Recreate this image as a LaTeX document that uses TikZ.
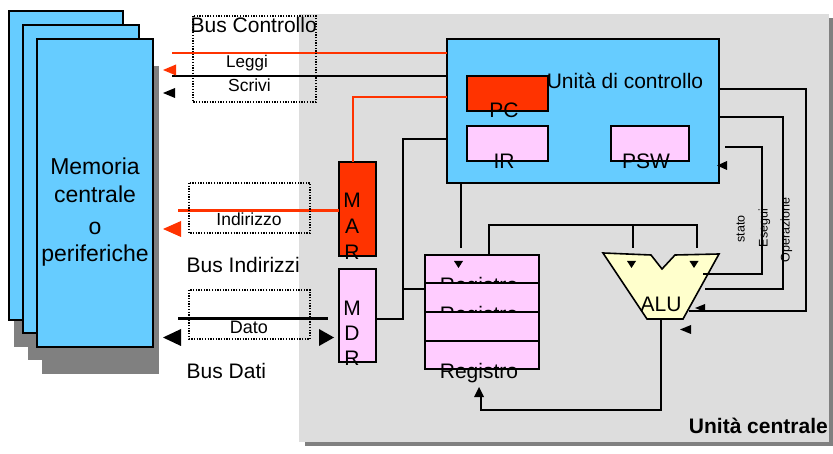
\documentclass[tikz,border=0pt]{standalone}
\usepackage{fontspec}
\setmainfont{Liberation Sans}
\definecolor{cublue}{HTML}{66CCFF}
\definecolor{busred}{HTML}{FF3300}
\definecolor{regpink}{HTML}{FFCCFF}
\definecolor{aluyellow}{HTML}{FFFFCC}
\definecolor{panelgray}{HTML}{DDDDDD}
\definecolor{shadowgray}{HTML}{808080}
\newcommand\myfs[1]{\fontsize{#1}{#1}\selectfont}
\begin{document}
\begin{tikzpicture}[x=1pt,y=-1pt,
  box/.style={draw=black, line width=1.6pt, inner sep=0pt, outer sep=0pt},
  wire/.style={draw=black, line width=1.4pt},
  rwire/.style={draw=busred, line width=1.3pt},
  dotbox/.style={draw=black, line width=1.3pt, dash pattern=on 1.3pt off 1.4pt},
  lab/.style={inner sep=0pt, anchor=base},
  labw/.style={inner sep=0pt, anchor=base west},
  rlab/.style={inner sep=0pt, anchor=center, rotate=90, text height=0.72em, text depth=0pt, font=\myfs{12.5}},
]
\useasboundingbox (0,0) rectangle (833,454);

% central panel
\fill[shadowgray] (305,18) rectangle (833,446);
\fill[panelgray] (299,14) rectangle (829,442);

% memory stack
\fill[shadowgray] (14,38) rectangle (128,347);
\draw[box, fill=cublue] (9,11) rectangle (123,320);
\fill[shadowgray] (28,52) rectangle (144,360);
\draw[box, fill=cublue] (23,25) rectangle (139,333);
\fill[shadowgray] (42,66) rectangle (159,374);
\draw[box, fill=cublue] (37,39) rectangle (153,347);
\node[lab, font=\myfs{23}] (mem1) at (95,175) {Memoria};
\node[lab, font=\myfs{23}] (mem2) at (95,203) {centrale};
\node[lab, font=\myfs{23}] (mem3) at (95,234.5) {o};
\node[lab, font=\myfs{23}] (mem4) at (95,262) {periferiche};

% control unit
\node[box, fill=cublue, minimum width=272pt, minimum height=144pt] (cu) at (583,111) {};
\node[box, fill=busred, minimum width=81pt, minimum height=35pt] (pc) at (507.5,93.5) {};
\node[box, fill=regpink, minimum width=81pt, minimum height=35pt] (ir) at (507.5,143.5) {};
\node[box, fill=regpink, minimum width=78pt, minimum height=35pt] (psw) at (650,143.5) {};
\node[lab, font=\myfs{21}] (cut) at (625,89) {Unità di controllo};
\node[lab, font=\myfs{21}] (pct) at (504,118) {PC};
\node[lab, font=\myfs{21}] (irt) at (504,169) {IR};
\node[lab, font=\myfs{21}] (pswt) at (646,169) {PSW};

% MAR / MDR
\node[box, fill=busred, minimum width=37pt, minimum height=94pt] (mar) at (357.5,209) {};
\node[box, fill=regpink, minimum width=37pt, minimum height=93pt] (mdr) at (357.5,315.5) {};
\node[lab, font=\myfs{21}] (marm) at (352,208) {M};
\node[lab, font=\myfs{21}] (mara) at (352,234) {A};
\node[lab, font=\myfs{21}] (marr) at (352,260) {R};
\node[lab, font=\myfs{21}] (mdrm) at (352,316) {M};
\node[lab, font=\myfs{21}] (mdrd) at (352,341) {D};
\node[lab, font=\myfs{21}] (mdrr) at (352,366) {R};

% registers
\node[box, fill=regpink, minimum width=114pt, minimum height=28pt] (reg1) at (482,269) {};
\node[lab, font=\myfs{21}] (reg1t) at (479,293) {Registro};
\node[box, fill=regpink, minimum width=114pt, minimum height=29pt] (reg2) at (482,297.5) {};
\node[lab, font=\myfs{21}] (reg2t) at (479,322) {Registro};
\node[box, fill=regpink, minimum width=114pt, minimum height=29pt] (reg3) at (482,326.5) {};
\node[box, fill=regpink, minimum width=114pt, minimum height=28pt] (reg4) at (482,355) {};
\node[lab, font=\myfs{21}] (reg4t) at (479,379) {Registro};

% ALU
\draw[box, fill=aluyellow, line join=miter] (603,253) -- (651,255) -- (662,269) -- (675,255) -- (719,254) -- (683,319) -- (647,319) -- cycle;
\coordinate (alubot) at (661,319);
\node[lab, font=\myfs{21}] (alut) at (661,312) {ALU};

% named bend points
\coordinate (b1) at (353,97);
\coordinate (j1) at (403,139);
\coordinate (j2) at (403,319);
\coordinate (j3) at (403,289);
\coordinate (k1) at (461,248);
\coordinate (a1) at (489,225);
\coordinate (a2) at (697,225);
\coordinate (a2e) at (697,248);
\coordinate (a3) at (633,225);
\coordinate (a3e) at (633,248);
\coordinate (r1) at (806,89);
\coordinate (r1b) at (806,311);
\coordinate (r1c) at (689,311);
\coordinate (r2) at (783,117);
\coordinate (r2b) at (783,289);
\coordinate (r2c) at (705,289);
\coordinate (r3s) at (725,147);
\coordinate (r3) at (762,147);
\coordinate (r3b) at (762,274);
\coordinate (r3c) at (703,274);
\coordinate (f1) at (661,410);
\coordinate (f2) at (481,410);
\coordinate (f3) at (481,396);
\coordinate (leggiEnd) at (172,53);
\coordinate (scriviEnd) at (172,76);
\coordinate (indEnd) at (178,211);
\coordinate (datoL) at (178,319);
\coordinate (datoR) at (328,319);

% control bus
\draw[rwire] (leggiEnd) -- (cu.west |- leggiEnd);
\draw[wire] (scriviEnd) -- (cu.west |- scriviEnd);
\draw[rwire, line width=1.5pt] (cu.west |- b1) -- (b1) -- (mar.north -| b1);

% internal wires
\draw[wire] (cu.west |- j1) -- (j1) -- (j2) -- (mdr.east |- j2);
\draw[wire] (j3) -- (reg2.west |- j3);
\draw[wire] (cu.south -| k1) -- (k1);
\draw[wire] (reg1.north -| a1) -- (a1) -- (a2) -- (a2e);
\draw[wire] (a3) -- (a3e);
\draw[wire] (cu.east |- r1) -- (r1) -- (r1b) -- (r1c);
\draw[wire] (cu.east |- r2) -- (r2) -- (r2b) -- (r2c);
\draw[wire] (r3s) -- (r3) -- (r3b) -- (r3c);
\draw[wire] (alubot) -- (f1) -- (f2) -- (f3);

% address and data bus
\draw[draw=busred, line width=3pt] (indEnd) -- (mar.west |- indEnd);
\draw[draw=black, line width=3pt] (datoL) -- (datoR);

% dotted bus boxes
\draw[dotbox] (193,16) rectangle (316,102);
\draw[dotbox] (189,183) rectangle (310,233);
\draw[dotbox] (189,290) rectangle (310,339);

% arrow heads
\fill[busred] (163,70) -- (176,64.5) -- (176,75.5) -- cycle;
\fill[black] (163,93) -- (175,88) -- (175,98) -- cycle;
\fill[busred] (163,229) -- (181,221) -- (181,237) -- cycle;
\fill[black] (163,337.5) -- (181,329) -- (181,346) -- cycle;
\fill[black] (334,337.5) -- (319,329) -- (319,346) -- cycle;
\fill[black] (717,165.5) -- (727,161) -- (727,170) -- cycle;
\fill[black] (458.5,268) -- (454,261) -- (463,261) -- cycle;
\fill[black] (631.5,268) -- (627,261) -- (636,261) -- cycle;
\fill[black] (694,268) -- (689.5,261) -- (698.5,261) -- cycle;
\fill[black] (695,308) -- (705,304) -- (705,312) -- cycle;
\fill[black] (680,329.5) -- (691,325) -- (691,334) -- cycle;
\fill[black] (479,387) -- (474,397) -- (484,397) -- cycle;

% labels
\node[labw, font=\myfs{21}] (busc) at (190.5,32.5) {Bus Controllo};
\node[lab, font=\myfs{17}] (leggi) at (247,68) {Leggi};
\node[lab, font=\myfs{17.5}] (scrivi) at (249.5,92) {Scrivi};
\node[lab, font=\myfs{17.5}] (indir) at (249,226) {Indirizzo};
\node[labw, font=\myfs{21}] (busi) at (186.5,273) {Bus Indirizzi};
\node[lab, font=\myfs{18}] (dato) at (249,334) {Dato};
\node[labw, font=\myfs{21}] (busd) at (186.5,379) {Bus Dati};
\node[rlab] (stato) at (741,229) {stato};
\node[rlab] (esegui) at (764,228) {Esegui};
\node[rlab] (oper) at (786,230) {Operazione};
\node[inner sep=0pt, anchor=base east, font=\myfs{21}\bfseries] (ucen) at (828,433) {Unità centrale};
\end{tikzpicture}
\end{document}
